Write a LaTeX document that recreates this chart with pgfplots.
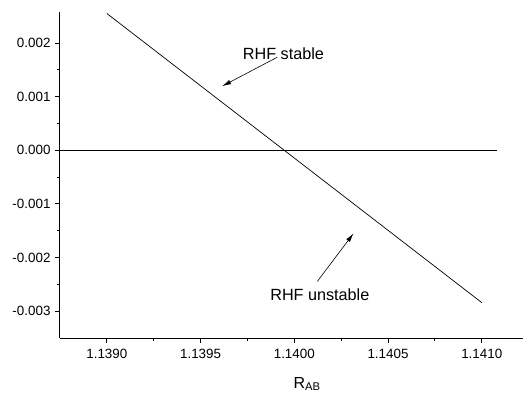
\documentclass[border=0pt]{standalone}
\usepackage{fontspec}
\setmainfont{Liberation Sans}
\usepackage{pgfplots}
\pgfplotsset{compat=1.18}
\usetikzlibrary{arrows.meta}
\begin{document}
\begin{tikzpicture}
\begin{axis}[
  scale only axis,
  width=463pt, height=326pt,
  xmin=1.13875, xmax=1.14122,
  ymin=-0.0035, ymax=0.002578,
  axis x line=bottom, axis y line=left,
  axis line style={-, line width=1pt},
  tick align=outside,
  major tick length=5pt, minor tick length=3pt,
  every tick/.style={black, line width=0.9pt},
  xtick={1.1390,1.1395,1.1400,1.1405,1.1410},
  ytick={-0.003,-0.002,-0.001,0,0.001,0.002},
  minor x tick num=1, minor y tick num=1,
  scaled x ticks=false, scaled y ticks=false,
  /pgf/number format/assume math mode=true,
  xticklabel={\pgfmathprintnumber[fixed,precision=4,zerofill]{\tick}},
  yticklabel={\pgfmathprintnumber[fixed,precision=3,zerofill]{\tick}},
  tick label style={font=\fontsize{13.4}{16}\selectfont},
  xticklabel style={yshift=-3pt},
  yticklabel style={xshift=-1pt},
  xlabel={R\textsubscript{AB}},
  xlabel style={at={(axis description cs:0,0)}, anchor=base west,
    xshift=230pt, yshift=-50pt, font=\fontsize{16}{19}\selectfont},
  clip=false,
]
\addplot[black, line width=0.7pt] coordinates {(1.1390,0.00255) (1.1410,-0.00284)};
\addplot[black, line width=0.8pt] coordinates {(1.13875,0) (1.14108,0)};
\draw[-{Latex[length=9pt,width=4.5pt]}, line width=0.6pt] (axis cs:1.139909,0.001735) -- (axis cs:1.139615,0.001194);
\draw[-{Latex[length=9pt,width=4.5pt]}, line width=0.6pt] (axis cs:1.140123,-0.002444) -- (axis cs:1.140316,-0.001549);
\node[anchor=west, font=\fontsize{16.2}{19}\selectfont, inner sep=0pt] at (axis cs:1.139725,0.0018) {RHF stable};
\node[anchor=west, font=\fontsize{16.2}{19}\selectfont, inner sep=0pt] at (axis cs:1.139871,-0.00269) {RHF unstable};
\coordinate (sw) at (rel axis cs:0,0);
\coordinate (ne) at (rel axis cs:1,1);
\end{axis}
\pgfresetboundingbox
\path ([shift={(-60pt,-56pt)}]sw) rectangle ([shift={(0pt,12pt)}]ne);
\end{tikzpicture}
\end{document}
